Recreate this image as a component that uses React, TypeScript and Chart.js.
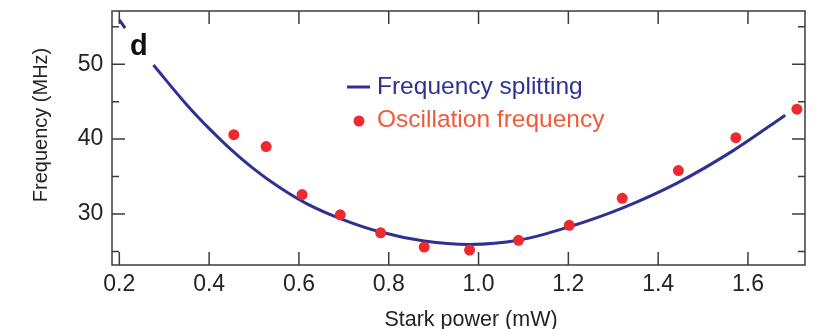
import React, { useEffect, useRef } from "react";
import { Chart, registerables } from "chart.js";

Chart.register(...registerables);

// ---- data ----
const starkPower = [0.455, 0.527, 0.607, 0.692, 0.782, 0.879, 0.98, 1.089, 1.202, 1.32, 1.445, 1.573, 1.709];
const oscillationFreq = [40.6, 39.0, 32.6, 29.9, 27.5, 25.6, 25.2, 26.5, 28.5, 32.1, 35.8, 40.2, 44.0];

const fitPower = [0.2, 0.213, 0.245, 0.276, 0.35, 0.402, 0.447, 0.498, 0.558, 0.617, 0.692, 0.782, 0.879, 0.98, 1.089, 1.202, 1.32, 1.441, 1.568, 1.683];
const fitSplitting: (number | null)[] = [55.9, 54.8, null, 49.9, 44.6, 41.3, 38.7, 36.1, 33.5, 31.4, 29.4, 27.6, 26.4, 25.95, 26.5, 28.3, 30.8, 34.1, 38.5, 43.2];

const xTickValues = [0.2, 0.4, 0.6, 0.8, 1.0, 1.2, 1.4, 1.6];
const yMajorTicks = [30, 40, 50];
const yMinorTicks = [25, 35, 45, 55];

const X_MIN = 0.1837;
const X_MAX = 1.727;
const Y_MIN = 23.2;
const Y_MAX = 57.1;

const xTitle = "Stark power (mW)";
const yTitle = "Frequency (MHz)";
const panelLabel = "d";
const splitLabel = "Frequency splitting";
const oscLabel = "Oscillation frequency";

const FONT = "'Liberation Sans', Arial, Helvetica, sans-serif";
const AXIS_COLOR = "#3c3c3c";
const TEXT_COLOR = "#232323";
const BLUE = "#2e3192";
const RED = "#ec2a2f";
const ORANGE = "#ee5b3b";

const decor = {
  id: "decor",
  afterDatasetsDraw(chart: any) {
    const { ctx, chartArea: a, scales } = chart;
    const x = scales.x;
    const y = scales.y;
    ctx.save();
    // frame
    ctx.strokeStyle = AXIS_COLOR;
    ctx.lineWidth = 1.5;
    ctx.strokeRect(a.left, a.top, a.right - a.left, a.bottom - a.top);
    // inward ticks
    const MAJOR = 13;
    const MINOR = 7;
    ctx.beginPath();
    for (const v of xTickValues) {
      const px = x.getPixelForValue(v);
      ctx.moveTo(px, a.bottom);
      ctx.lineTo(px, a.bottom - MAJOR);
      ctx.moveTo(px, a.top);
      ctx.lineTo(px, a.top + MAJOR);
    }
    for (const v of yMajorTicks) {
      const py = y.getPixelForValue(v);
      ctx.moveTo(a.left, py);
      ctx.lineTo(a.left + MAJOR, py);
      ctx.moveTo(a.right, py);
      ctx.lineTo(a.right - MAJOR, py);
    }
    for (const v of yMinorTicks) {
      const py = y.getPixelForValue(v);
      ctx.moveTo(a.left, py);
      ctx.lineTo(a.left + MINOR, py);
      ctx.moveTo(a.right, py);
      ctx.lineTo(a.right - MINOR, py);
    }
    ctx.stroke();

    // panel label
    ctx.fillStyle = "#111";
    ctx.font = `bold 29px ${FONT}`;
    ctx.textAlign = "left";
    ctx.textBaseline = "alphabetic";
    ctx.fillText(panelLabel, 130, 55);

    // legend
    ctx.strokeStyle = BLUE;
    ctx.lineWidth = 3;
    ctx.beginPath();
    ctx.moveTo(347, 87);
    ctx.lineTo(370, 87);
    ctx.stroke();
    ctx.font = `24.5px ${FONT}`;
    ctx.fillStyle = BLUE;
    ctx.fillText(splitLabel, 377, 94);
    ctx.fillStyle = RED;
    ctx.beginPath();
    ctx.arc(359, 121, 5.5, 0, Math.PI * 2);
    ctx.fill();
    ctx.fillStyle = ORANGE;
    ctx.fillText(oscLabel, 377, 127);

    // axis titles
    ctx.fillStyle = TEXT_COLOR;
    ctx.font = `21.5px ${FONT}`;
    ctx.textAlign = "center";
    ctx.fillText(xTitle, 471, 326);
    ctx.save();
    ctx.translate(47, 125);
    ctx.rotate(-Math.PI / 2);
    ctx.font = `20px ${FONT}`;
    ctx.fillText(yTitle, 0, 0);
    ctx.restore();

    ctx.restore();
  },
};

export default function App() {
  const ref = useRef<HTMLCanvasElement>(null);
  useEffect(() => {
    if (!ref.current) return;
    const chart = new Chart(ref.current, {
      type: "scatter",
      data: {
        datasets: [
          {
            label: oscLabel,
            data: starkPower.map((p, i) => ({ x: p, y: oscillationFreq[i] })),
            backgroundColor: RED,
            borderWidth: 0,
            pointRadius: 5.5,
          },
          {
            label: splitLabel,
            data: fitPower.map((p, i) => ({ x: p, y: fitSplitting[i] })) as any,
            showLine: true,
            borderColor: BLUE,
            borderWidth: 3,
            pointRadius: 0,
            cubicInterpolationMode: "monotone",
            spanGaps: false,
          } as any,
        ],
      },
      options: {
        animation: false,
        responsive: true,
        maintainAspectRatio: false,
        layout: { padding: { top: 11, right: 14, left: 0, bottom: 0 } },
        plugins: { legend: { display: false }, tooltip: { enabled: false } },
        scales: {
          x: {
            type: "linear",
            min: X_MIN,
            max: X_MAX,
            grid: { display: false, drawTicks: false },
            border: { display: false },
            afterBuildTicks: (s: any) => {
              s.ticks = xTickValues.map((v) => ({ value: v }));
            },
            afterFit: (s: any) => {
              s.height = 64;
              s.paddingLeft = 0;
              s.paddingRight = 0;
            },
            ticks: {
              padding: 6,
              color: TEXT_COLOR,
              font: { family: FONT, size: 23 },
              maxRotation: 0,
              autoSkip: false,
              callback: (v: any) => Number(v).toFixed(1),
            },
          },
          y: {
            type: "linear",
            min: Y_MIN,
            max: Y_MAX,
            grid: { display: false, drawTicks: false },
            border: { display: false },
            afterBuildTicks: (s: any) => {
              s.ticks = yMajorTicks.map((v) => ({ value: v }));
            },
            afterFit: (s: any) => {
              s.width = 112;
              s.paddingTop = 0;
              s.paddingBottom = 0;
            },
            ticks: {
              padding: 8.7,
              color: TEXT_COLOR,
              font: { family: FONT, size: 23 },
              autoSkip: false,
              callback: (v: any) => String(v),
            },
          },
        },
      },
      plugins: [decor],
    });
    return () => chart.destroy();
  }, []);
  return (
    <div style={{ position: "fixed", left: 0, top: 0, width: 819, height: 329, background: "#fff" }}>
      <canvas ref={ref} />
    </div>
  );
}
